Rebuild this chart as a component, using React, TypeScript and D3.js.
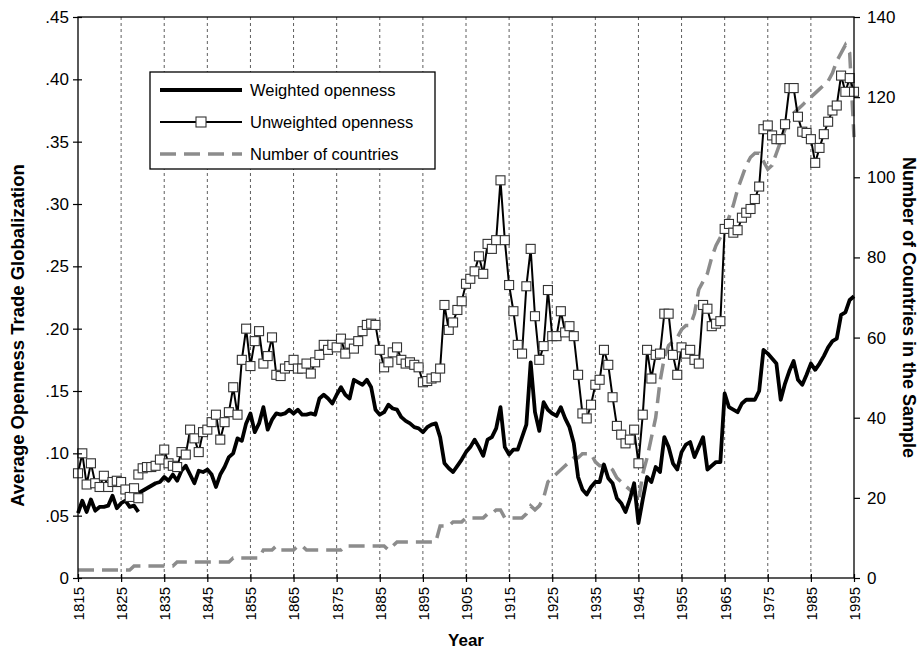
import React, { useRef, useEffect } from 'react';
import * as d3 from 'd3';

// first year of each sample
const earlyStart = 1815;
const mainStart = 1829;

// early sample 1815-1829
const weightedEarly = [.052, .062, .053, .063, .054, .057, .057, .058, .066, .056, .060, .062, .057, .058, .053];
const unweightedEarly = [.084, .100, .075, .092, .076, .073, .082, .073, .077, .078, .077, .071, .065, .072, .064];

// main sample 1829-1995
const weighted = [
  .068,
  .070, .072, .074, .076, .077, .081, .078, .083, .078, .086,
  .090, .083, .076, .086, .085, .087, .083, .073, .083, .089,
  .097, .100, .112, .110, .124, .132, .117, .124, .137, .119,
  .127, .132, .131, .132, .135, .132, .135, .131, .131, .132,
  .131, .144, .147, .144, .140, .147, .153, .147, .144, .159,
  .157, .155, .159, .153, .135, .131, .133, .139, .136, .135,
  .129, .126, .124, .121, .120, .117, .121, .123, .124, .113,
  .092, .088, .085, .090, .095, .101, .105, .111, .105, .098,
  .111, .113, .120, .137, .105, .099, .103, .103, .113, .123,
  .173, .133, .118, .141, .135, .132, .130, .137, .128, .121,
  .108, .081, .071, .067, .073, .077, .077, .091, .080, .076,
  .064, .060, .053, .063, .076, .044, .063, .081, .077, .089,
  .085, .113, .105, .092, .087, .101, .107, .109, .097, .105,
  .113, .087, .090, .093, .093, .148, .137, .135, .133, .140,
  .143, .143, .143, .150, .183, .180, .176, .172, .143, .156,
  .166, .174, .159, .155, .163, .172, .167, .172, .178, .185,
  .190, .192, .211, .213, .223, .226
];

const unweighted = [
  .083,
  .088, .089, .089, .090, .095, .103, .092, .090, .089, .101,
  .099, .119, .112, .101, .117, .119, .125, .131, .111, .125,
  .133, .153, .131, .175, .200, .170, .190, .198, .172, .178,
  .193, .163, .162, .168, .170, .175, .168, .168, .172, .164,
  .173, .179, .187, .183, .187, .185, .192, .180, .188, .184,
  .190, .198, .203, .204, .203, .183, .169, .173, .181, .185,
  .175, .172, .173, .171, .169, .157, .158, .160, .161, .168,
  .219, .199, .205, .215, .222, .236, .240, .246, .258, .244,
  .268, .264, .271, .319, .271, .235, .214, .187, .180, .234,
  .264, .210, .175, .186, .231, .194, .194, .214, .197, .202,
  .194, .163, .132, .128, .139, .155, .159, .183, .171, .145,
  .122, .115, .108, .111, .119, .092, .131, .183, .160, .179,
  .180, .212, .212, .179, .163, .185, .180, .183, .175, .172,
  .219, .216, .202, .204, .206, .280, .284, .277, .279, .289,
  .293, .296, .304, .314, .360, .363, .355, .352, .352, .364,
  .393, .393, .370, .358, .357, .352, .333, .345, .356, .366,
  .375, .379, .403, .390, .401, .390
];

// number of countries 1815-1995
const countries = [
  2, 2, 2, 2, 2,
  2, 2, 2, 2, 2, 2, 2, 2, 3, 3,
  3, 3, 3, 3, 3, 3, 3, 3, 4, 4,
  4, 4, 4, 4, 4, 4, 4, 4, 4, 4,
  4, 5, 5, 5, 5, 5, 5, 5, 7, 7,
  7, 8, 7, 7, 7, 7, 8, 8, 7, 7,
  7, 7, 7, 7, 7, 7, 7, 8, 8, 8,
  8, 8, 8, 8, 8, 8, 8, 7, 8, 9,
  9, 9, 9, 9, 9, 9, 9, 9, 9, 13,
  13, 13, 14, 14, 14, 15, 15, 15, 15, 15,
  16, 16, 17, 17, 15, 15, 15, 15, 15, 16,
  18, 17, 18, 20, 24, 25, 26, 27, 28, 29,
  30, 30, 31, 31, 31, 29, 28, 28, 28, 27,
  25, 24, 23, 22, 21, 19, 26, 30, 35, 40,
  49, 55, 58, 59, 60, 62, 63, 63, 66, 72,
  74, 76, 80, 83, 85, 87, 90, 93, 97, 100,
  103, 105, 106, 106, 104, 102, 103, 106, 109, 112,
  114, 116, 117, 118, 119, 120, 121, 122, 123, 124,
  126, 129, 131, 133, 131, 110
];

const yearTicks = [1815, 1825, 1835, 1845, 1855, 1865, 1875, 1885, 1895, 1905, 1915, 1925, 1935, 1945, 1955, 1965, 1975, 1985, 1995];
const leftTicks = [0, .05, .10, .15, .20, .25, .30, .35, .40, .45];
const rightTicks = [0, 20, 40, 60, 80, 100, 120, 140];

const legendItems = ['Weighted openness', 'Unweighted openness', 'Number of countries'];

const W = 918;
const H = 653;
const margin = { top: 17, right: 64, bottom: 75, left: 78 };
const FONT = 'Liberation Sans, Arial, Helvetica, sans-serif';

const App = () => {
  const svgRef = useRef(null);

  useEffect(() => {
    const svg = d3.select(svgRef.current);
    svg.selectAll('*').remove();

    const x = d3.scaleLinear().domain([1815, 1995]).range([margin.left, W - margin.right]);
    const yL = d3.scaleLinear().domain([0, .45]).range([H - margin.bottom, margin.top]);
    const yR = d3.scaleLinear().domain([0, 140]).range([H - margin.bottom, margin.top]);

    const top = margin.top, bottom = H - margin.bottom;
    const left = margin.left, right = W - margin.right;

    // vertical dotted grid
    svg.append('g')
      .selectAll('line')
      .data(yearTicks.slice(1, -1))
      .join('line')
      .attr('x1', d => x(d)).attr('x2', d => x(d))
      .attr('y1', top).attr('y2', bottom)
      .attr('stroke', '#333')
      .attr('stroke-width', 0.8)
      .attr('stroke-dasharray', '3,3');

    const pts = (vals, start) => vals.map((v, i) => [start + i, v]);

    // number of countries
    const lineR = d3.line().x(d => x(d[0])).y(d => yR(d[1]));
    svg.append('path')
      .attr('d', lineR(pts(countries, earlyStart)))
      .attr('fill', 'none')
      .attr('stroke', '#8c8c8c')
      .attr('stroke-width', 3.5)
      .attr('stroke-dasharray', '16,8');

    const lineL = d3.line().x(d => x(d[0])).y(d => yL(d[1]));

    // weighted openness
    [pts(weightedEarly, earlyStart), pts(weighted, mainStart)].forEach(p => {
      svg.append('path')
        .attr('d', lineL(p))
        .attr('fill', 'none')
        .attr('stroke', '#000')
        .attr('stroke-width', 3.8)
        .attr('stroke-linejoin', 'round');
    });

    // unweighted openness
    [pts(unweightedEarly, earlyStart), pts(unweighted, mainStart)].forEach(p => {
      svg.append('path')
        .attr('d', lineL(p))
        .attr('fill', 'none')
        .attr('stroke', '#000')
        .attr('stroke-width', 2);
      svg.append('g')
        .selectAll('rect')
        .data(p)
        .join('rect')
        .attr('x', d => x(d[0]) - 4.5)
        .attr('y', d => yL(d[1]) - 4.5)
        .attr('width', 9).attr('height', 9)
        .attr('fill', '#fff')
        .attr('stroke', '#333')
        .attr('stroke-width', 1.1);
    });

    // frame
    svg.append('rect')
      .attr('x', left).attr('y', top)
      .attr('width', right - left).attr('height', bottom - top)
      .attr('fill', 'none').attr('stroke', '#000').attr('stroke-width', 1.3);

    // axes
    const gL = svg.append('g').attr('transform', `translate(${left},0)`)
      .call(d3.axisLeft(yL).tickValues(leftTicks).tickSize(5).tickSizeOuter(0)
        .tickFormat(d => d === 0 ? '0' : d3.format('.2f')(d).replace(/^0/, '')));
    const gR = svg.append('g').attr('transform', `translate(${right},0)`)
      .call(d3.axisRight(yR).tickValues(rightTicks).tickSize(6).tickSizeOuter(0));
    const gB = svg.append('g').attr('transform', `translate(0,${bottom})`)
      .call(d3.axisBottom(x).tickValues(yearTicks).tickSize(4).tickSizeOuter(0).tickFormat(d3.format('d')));

    [gL, gR, gB].forEach(g => {
      g.select('.domain').remove();
      g.selectAll('line').attr('stroke', '#000').attr('stroke-width', 1.2);
      g.selectAll('text').attr('font-family', FONT).attr('fill', '#000');
    });
    gL.selectAll('text').attr('font-size', 17).attr('x', -9);
    gR.selectAll('text').attr('font-size', 17).attr('x', 13);
    gB.selectAll('.tick line').attr('y1', -4);
    gL.selectAll('.tick line').attr('x1', 4);
    gB.selectAll('text')
      .attr('font-size', 15)
      .attr('transform', 'rotate(-90)')
      .attr('text-anchor', 'end')
      .attr('x', -9)
      .attr('y', 0)
      .attr('dy', '0.36em');

    // axis titles
    svg.append('text')
      .attr('transform', `translate(24,${(top + bottom) / 2 + 38}) rotate(-90)`)
      .attr('text-anchor', 'middle')
      .attr('font-family', FONT).attr('font-weight', 'bold').attr('font-size', 18.5)
      .text('Average Openness Trade Globalization');
    svg.append('text')
      .attr('transform', `translate(903,${(top + bottom) / 2 + 10}) rotate(90)`)
      .attr('text-anchor', 'middle')
      .attr('font-family', FONT).attr('font-weight', 'bold').attr('font-size', 18)
      .text('Number of Countries in the Sample');
    svg.append('text')
      .attr('x', (left + right) / 2).attr('y', 646)
      .attr('text-anchor', 'middle')
      .attr('font-family', FONT).attr('font-weight', 'bold').attr('font-size', 17)
      .text('Year');

    // legend
    const lg = svg.append('g').attr('transform', 'translate(150,72)');
    lg.append('rect').attr('width', 285).attr('height', 97)
      .attr('fill', '#fff').attr('stroke', '#000').attr('stroke-width', 1.3);
    const rowY = [18, 50, 82];
    lg.append('line').attr('x1', 10).attr('x2', 92).attr('y1', rowY[0]).attr('y2', rowY[0])
      .attr('stroke', '#000').attr('stroke-width', 3.8);
    lg.append('line').attr('x1', 10).attr('x2', 92).attr('y1', rowY[1]).attr('y2', rowY[1])
      .attr('stroke', '#000').attr('stroke-width', 2);
    lg.append('rect').attr('x', 46).attr('y', rowY[1] - 5).attr('width', 10).attr('height', 10)
      .attr('fill', '#fff').attr('stroke', '#333').attr('stroke-width', 1.1);
    lg.append('line').attr('x1', 10).attr('x2', 92).attr('y1', rowY[2]).attr('y2', rowY[2])
      .attr('stroke', '#8c8c8c').attr('stroke-width', 3.5).attr('stroke-dasharray', '16,8');
    lg.selectAll('text.lbl')
      .data(legendItems)
      .join('text')
      .attr('class', 'lbl')
      .attr('x', 100)
      .attr('y', (d, i) => rowY[i])
      .attr('dy', '0.36em')
      .attr('font-family', FONT).attr('font-size', 16.5)
      .text(d => d);
  }, []);

  return (
    <div style={{ position: 'absolute', left: 0, top: 0 }}>
      <svg ref={svgRef} width={W} height={H} style={{ display: 'block', background: '#fff' }} />
    </div>
  );
};

export default App;
